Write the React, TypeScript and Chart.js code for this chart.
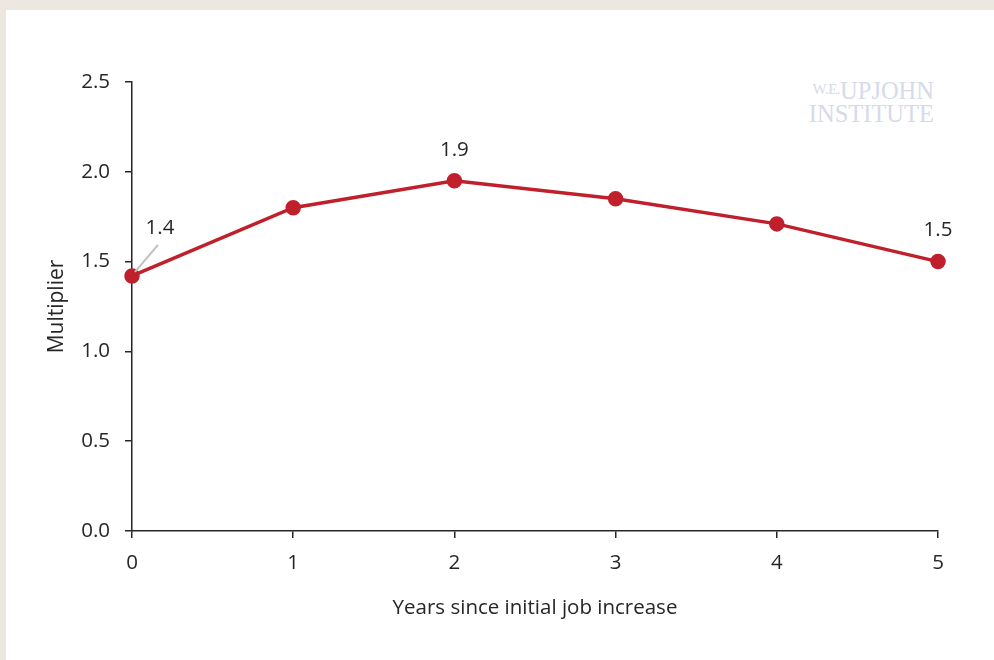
import React, { useEffect, useRef } from "react";
import { Chart, registerables } from "chart.js";

Chart.register(...registerables);

const years = ["0", "1", "2", "3", "4", "5"];
const multiplier = [1.42, 1.8, 1.95, 1.85, 1.71, 1.5];
const labeledPoints = [
  { index: 0, text: "1.4" },
  { index: 2, text: "1.9" },
  { index: 5, text: "1.5" },
];

const FONT = "'Open Sans', sans-serif";
const RED = "#C0202B";
const INK = "#262626";

const labelPlugin = {
  id: "pointLabels",
  afterDatasetsDraw(chart: any) {
    const meta = chart.getDatasetMeta(0);
    const ctx = chart.ctx;
    ctx.save();
    ctx.font = `20.5px ${FONT}`;
    ctx.fillStyle = INK;
    ctx.textAlign = "center";
    ctx.textBaseline = "middle";
    labeledPoints.forEach((lp) => {
      const pt = meta.data[lp.index];
      if (!pt) return;
      if (lp.index === 0) {
        ctx.strokeStyle = "#BFBFBF";
        ctx.lineWidth = 2;
        ctx.beginPath();
        ctx.moveTo(pt.x + 3, pt.y - 4);
        ctx.lineTo(pt.x + 26, pt.y - 31);
        ctx.stroke();
        ctx.fillText(lp.text, pt.x + 28, pt.y - 48);
      } else {
        ctx.fillText(lp.text, pt.x, pt.y - 31);
      }
    });
    ctx.restore();
  },
};

export default function App() {
  const ref = useRef<HTMLCanvasElement | null>(null);

  useEffect(() => {
    if (!ref.current) return;
    const chart = new Chart(ref.current, {
      type: "line",
      data: {
        labels: years,
        datasets: [
          {
            data: multiplier,
            borderColor: RED,
            backgroundColor: RED,
            borderWidth: 3.5,
            pointRadius: 6,
            pointBackgroundColor: RED,
            pointBorderColor: RED,
            tension: 0,
          },
        ],
      },
      options: {
        responsive: false,
        animation: false,
        layout: { padding: { left: 0, top: 82, right: 56, bottom: 0 } },
        plugins: {
          legend: { display: false },
          tooltip: { enabled: false },
        },
        scales: {
          x: {
            type: "category",
            offset: false,
            afterFit(scale: any) {
              scale.height = 129;
            },
            grid: {
              drawOnChartArea: false,
              drawTicks: true,
              tickLength: 7,
              color: INK,
              lineWidth: 1.5,
            },
            border: { display: true, color: INK, width: 1.5 },
            ticks: {
              color: INK,
              font: { family: FONT, size: 20.5 },
              padding: 13,
              maxRotation: 0,
            },
            title: {
              display: true,
              text: "Years since initial job increase",
              color: INK,
              font: { family: FONT, size: 20.5 },
              padding: { top: 0, bottom: 40 },
            },
          },
          y: {
            min: 0,
            max: 2.5,
            afterFit(scale: any) {
              scale.width = 132;
            },
            grid: {
              drawOnChartArea: false,
              drawTicks: true,
              tickLength: 7,
              color: INK,
              lineWidth: 1.5,
            },
            border: { display: true, color: INK, width: 1.5 },
            ticks: {
              stepSize: 0.5,
              color: INK,
              font: { family: FONT, size: 20.5 },
              padding: 15,
              callback: (v: any) => Number(v).toFixed(1),
            },
            title: {
              display: true,
              text: "Multiplier",
              color: INK,
              font: { family: FONT, size: 21 },
              padding: { top: 44, bottom: 0 },
            },
          },
        },
      },
      plugins: [labelPlugin],
    });
    return () => chart.destroy();
  }, []);

  return (
    <div
      style={{
        position: "fixed",
        left: 0,
        top: 0,
        width: 994,
        height: 660,
        background: "#ECE7E1",
        overflow: "hidden",
      }}
    >
      <div
        style={{
          position: "absolute",
          left: 6,
          top: 10,
          right: 0,
          bottom: 0,
          background: "#FFFFFF",
        }}
      />
      <div
        style={{
          position: "absolute",
          right: 60,
          top: 78,
          textAlign: "right",
          fontFamily: "'Liberation Serif', 'Times New Roman', serif",
          fontSize: 24.5,
          lineHeight: "23px",
          color: "#D6DAEA",
        }}
      >
        <div>
          <span style={{ fontSize: 15, verticalAlign: "5px", letterSpacing: -0.5 }}>W.E.</span>UPJOHN
        </div>
        <div>INSTITUTE</div>
      </div>
      <canvas
        ref={ref}
        width={994}
        height={660}
        style={{ position: "absolute", left: 0, top: 0, width: 994, height: 660 }}
      />
    </div>
  );
}
